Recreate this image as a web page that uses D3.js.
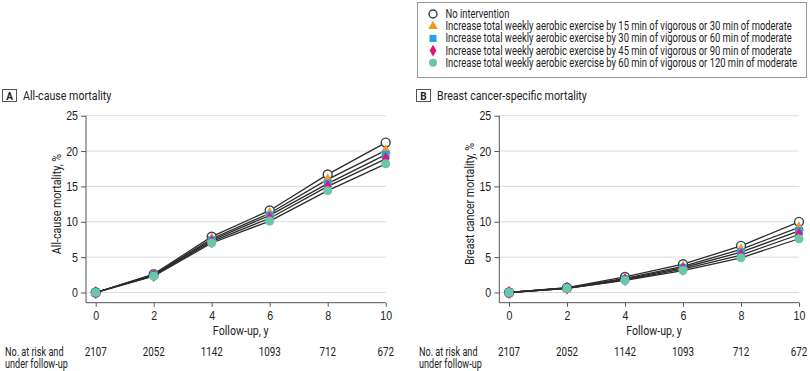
<!DOCTYPE html>
<html>
<head>
<meta charset="utf-8">
<script src="https://cdn.jsdelivr.net/npm/d3@7"></script>
<style>
  body { margin: 0; background: #fff; }
  svg { display: block; font-family: Roboto, "Liberation Sans", sans-serif; }
</style>
</head>
<body>
<script>
// follow-up years and people at risk
var years = [0, 2, 4, 6, 8, 10];
var atRisk = [2107, 2052, 1142, 1093, 712, 672];
var yTicks = [0, 5, 10, 15, 20, 25];

var seriesNames = [
  'No intervention',
  'Increase total weekly aerobic exercise by 15 min of vigorous or 30 min of moderate',
  'Increase total weekly aerobic exercise by 30 min of vigorous or 60 min of moderate',
  'Increase total weekly aerobic exercise by 45 min of vigorous or 90 min of moderate',
  'Increase total weekly aerobic exercise by 60 min of vigorous or 120 min of moderate'
];

// panel A, all-cause mortality (%)
var allNoInt = [0, 2.6, 7.9, 11.6, 16.7, 21.2];
var allEx15  = [0, 2.5, 7.6, 11.2, 16.0, 20.1];
var allEx30  = [0, 2.5, 7.4, 10.9, 15.4, 19.5];
var allEx45  = [0, 2.4, 7.2, 10.5, 15.0, 18.9];
var allEx60  = [0, 2.3, 7.0, 10.1, 14.4, 18.2];

// panel B, breast cancer-specific mortality (%)
var bcNoInt = [0, 0.7, 2.2, 4.0, 6.6, 10.0];
var bcEx15  = [0, 0.65, 2.0, 3.7, 6.1, 9.2];
var bcEx30  = [0, 0.6, 1.9, 3.5, 5.7, 8.7];
var bcEx45  = [0, 0.6, 1.8, 3.3, 5.3, 8.2];
var bcEx60  = [0, 0.6, 1.7, 3.1, 4.9, 7.6];

var markers = [
  { sym: d3.symbolCircle,   size: 62, fill: '#fff',    stroke: '#2d3e50' },
  { sym: d3.symbolTriangle, size: 50, fill: '#f29a1f', stroke: 'none' },
  { sym: d3.symbolSquare,   size: 62, fill: '#26a2dd', stroke: 'none' },
  { sym: d3.symbolDiamond,  size: 50, fill: '#e0147f', stroke: 'none' },
  { sym: d3.symbolCircle,   size: 64, fill: '#6cc6ad', stroke: 'none' }
];

var svg = d3.select('body').append('svg').attr('width', 810).attr('height', 371);

// the reference uses a condensed face; squeeze text horizontally with a transform
function squeeze(sel, k) {
  sel.each(function () {
    var t = d3.select(this);
    var x = +t.attr('x') || 0, y = +t.attr('y') || 0;
    var tr = t.attr('transform') || '';
    t.attr('x', null).attr('y', null)
      .attr('transform', 'translate(' + x + ',' + y + ') ' + tr + ' scale(' + k + ',1)');
  });
}

// legend
var legend = svg.append('g');
legend.append('rect')
  .attr('x', 417.5).attr('y', 2.5).attr('width', 389).attr('height', 75)
  .attr('fill', '#fff').attr('stroke', '#9a9a9a');
seriesNames.forEach(function (name, i) {
  var cy = 14 + i * 12.2;
  legend.append('path')
    .attr('d', d3.symbol().type(markers[i].sym).size(markers[i].size * 0.8))
    .attr('transform', 'translate(433,' + cy + ')')
    .attr('fill', markers[i].fill)
    .attr('stroke', markers[i].stroke).attr('stroke-width', 1.4);
  legend.append('text')
    .attr('class', 'leg')
    .attr('x', 445.5).attr('y', cy + 4)
    .attr('font-size', 12).attr('fill', '#222')
    .text(name);
});
var legTexts = legend.selectAll('text.leg');
var maxW = d3.max(legTexts.nodes(), function (n) { return n.getComputedTextLength(); });
squeeze(legTexts, 352 / maxW);

function drawPanel(opts) {
  var g = svg.append('g');
  var x = d3.scaleLinear().domain([0, 10]).range([opts.x0, opts.x0 + 290]);
  var y = d3.scaleLinear().domain([0, 25]).range([292.5, 115.7]);
  var axisY = 302.7;
  var axisX = opts.x0 - 9.7;

  // title with letter box
  g.append('rect')
    .attr('x', opts.left + 0.5).attr('y', 89.5).attr('width', 14).attr('height', 12)
    .attr('fill', '#fff').attr('stroke', '#555');
  g.append('text')
    .attr('x', opts.left + 7.5).attr('y', 99.5).attr('text-anchor', 'middle')
    .attr('font-size', 10).attr('font-weight', 'bold').attr('fill', '#222')
    .text(opts.letter);
  var title = g.append('text')
    .attr('x', opts.left + 21).attr('y', 100)
    .attr('font-size', 13).attr('fill', '#222')
    .text(opts.title);

  // gridlines
  g.selectAll('.grid').data(yTicks).enter().append('line')
    .attr('x1', axisX).attr('x2', x(10))
    .attr('y1', function (d) { return y(d); }).attr('y2', function (d) { return y(d); })
    .attr('stroke', '#dcdcdc').attr('stroke-width', 1);

  // y axis
  var yAxis = g.append('g').attr('transform', 'translate(' + axisX + ',0)')
    .call(d3.axisLeft(y).tickValues(yTicks).tickSize(5).tickPadding(3).tickSizeOuter(0));
  yAxis.select('.domain').attr('d', 'M0,' + y(25) + 'V' + axisY);
  // x axis
  var xAxis = g.append('g').attr('transform', 'translate(0,' + axisY + ')')
    .call(d3.axisBottom(x).tickValues(years).tickSize(4).tickPadding(4).tickSizeOuter(0));
  xAxis.select('.domain').attr('d', 'M' + axisX + ',0H' + x(10));

  [yAxis, xAxis].forEach(function (a) {
    a.selectAll('text').attr('font-size', 13).attr('fill', '#222').attr('font-family', null);
    a.selectAll('line').attr('stroke', '#555');
    a.select('.domain').attr('stroke', '#555');
    squeeze(a.selectAll('text'), 0.82);
  });

  var yLab = g.append('text')
    .attr('transform', 'translate(' + opts.yLabelX + ',204) rotate(-90)')
    .attr('text-anchor', 'middle').attr('font-size', 13).attr('fill', '#222')
    .text(opts.yLabel);
  var xLab = g.append('text')
    .attr('x', x(5)).attr('y', 335).attr('text-anchor', 'middle')
    .attr('font-size', 13).attr('fill', '#222')
    .text('Follow-up, y');

  // number at risk
  var risk1 = g.append('text').attr('x', opts.left + 3).attr('y', 355.5)
    .attr('font-size', 12).attr('fill', '#222').text('No. at risk and');
  var risk2 = g.append('text').attr('x', opts.left + 3).attr('y', 367.5)
    .attr('font-size', 12).attr('fill', '#222').text('under follow-up');
  var riskNums = g.selectAll('.risk').data(atRisk).enter().append('text')
    .attr('x', function (d, i) { return x(years[i]); }).attr('y', 355.5)
    .attr('text-anchor', 'middle').attr('font-size', 12).attr('fill', '#222')
    .text(function (d) { return d; });

  squeeze(title, 0.82);
  squeeze(yLab, 0.82);
  squeeze(xLab, 0.82);
  squeeze(risk1, 0.76);
  squeeze(risk2, 0.76);
  squeeze(riskNums, 0.82);

  var line = d3.line()
    .x(function (d, i) { return x(years[i]); })
    .y(function (d) { return y(d); });

  opts.series.forEach(function (s) {
    g.append('path').attr('d', line(s))
      .attr('fill', 'none').attr('stroke', '#2b2b2b').attr('stroke-width', 1.3);
  });

  opts.series.forEach(function (s, k) {
    var m = markers[k];
    g.selectAll(null).data(s).enter().append('path')
      .attr('d', d3.symbol().type(m.sym).size(m.size))
      .attr('transform', function (d, i) { return 'translate(' + x(years[i]) + ',' + y(d) + ')'; })
      .attr('fill', m.fill)
      .attr('stroke', m.stroke).attr('stroke-width', 1.4);
  });
}

drawPanel({
  letter: 'A', title: 'All-cause mortality', yLabel: 'All-cause mortality, %',
  left: 2, x0: 95.7, yLabelX: 61,
  series: [allNoInt, allEx15, allEx30, allEx45, allEx60]
});
drawPanel({
  letter: 'B', title: 'Breast cancer-specific mortality', yLabel: 'Breast cancer mortality, %',
  left: 416, x0: 509, yLabelX: 474,
  series: [bcNoInt, bcEx15, bcEx30, bcEx45, bcEx60]
});
</script>
</body>
</html>
